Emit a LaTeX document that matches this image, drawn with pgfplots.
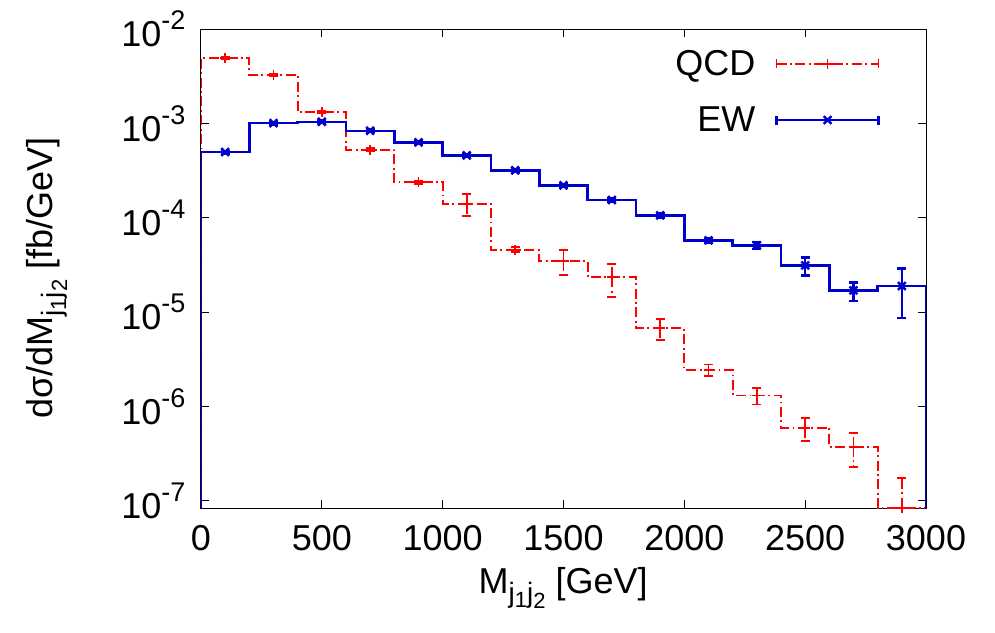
\documentclass[border=0pt]{standalone}
\usepackage{fontspec}
\setmainfont{Liberation Sans}
\usepackage{pgfplots}
\pgfplotsset{compat=1.18}
\definecolor{qcdred}{RGB}{255,0,0}
\definecolor{ewblue}{RGB}{0,0,204}
% gnuplot-like exponents and subscripts
\newcommand{\ten}[1]{10\raisebox{17pt}{\fontsize{27}{27}\selectfont #1}}
\newcommand{\jj}{\raisebox{-9pt}{\fontsize{28}{28}\selectfont j\raisebox{-5pt}{\fontsize{22}{22}\selectfont 1}j\raisebox{-6pt}{\fontsize{22}{22}\selectfont 2}}}
\tikzset{
  qcdline/.style={qcdred, line width=1.8pt, dash pattern=on 10pt off 3.5pt on 1.8pt off 3.5pt},
  ewline/.style={ewblue, line width=2.5pt},
}

\begin{document}
\begin{tikzpicture}
\useasboundingbox (-201pt,-124pt) rectangle (794pt,508pt);
\begin{axis}[
  scale only axis, width=725pt, height=479pt,
  xmin=0, xmax=3000, ymode=log, ymin=8.4e-8, ymax=1e-2,
  xtick={0,500,1000,1500,2000,2500,3000},
  xticklabels={0,500,1000,1500,2000,2500,3000},
  ytick={1e-7,1e-6,1e-5,1e-4,1e-3,1e-2},
  yticklabels={\ten{-7},\ten{-6},\ten{-5},\ten{-4},\ten{-3},\ten{-2}},
  minor y tick style={draw=none}, minor x tick num=0,
  tick align=inside, major tick length=8pt,
  tick style={black, line width=1pt},
  axis line style={black, line width=1pt},
  tick label style={font=\fontsize{36}{36}\selectfont},
  yticklabel style={xshift=-12pt},
  xticklabel style={yshift=-14pt},
  label style={font=\fontsize{36}{36}\selectfont},
  xlabel={M\jj{} [GeV]},
  ylabel={dσ/dM\jj{} [fb/GeV]},
  xlabel style={at={(axis description cs:0.4995,-0.1775)}, anchor=base},
  ylabel style={at={(axis description cs:-0.2055,0.48)}, anchor=base},
  legend plot pos=right, legend cell align=right,
  legend style={at={(rel axis cs:0.9366,0.956)}, anchor=north east,
    draw=none, fill=none, inner sep=0pt, row sep=30pt, column sep=20pt,
    nodes={inner sep=0pt}, font=\fontsize{36}{36}\selectfont},
]
% QCD histogram steps
\addplot[qcdline, const plot mark left, forget plot] coordinates {
  (0,1e-8)(0,4.95e-3)(200,3.25e-3)(400,1.32e-3)(600,5.25e-4)(800,2.37e-4)
  (1000,1.41e-4)(1200,4.58e-5)(1400,3.5e-5)(1600,2.34e-5)(1800,6.73e-6)
  (2000,2.44e-6)(2200,1.31e-6)(2400,5.97e-7)(2600,3.75e-7)(2800,8.45e-8)
  (3000,8.45e-8)(3000,1e-8)};
% QCD bin centres with errors
\addplot[qcdred, line width=1.8pt, only marks, mark=+, mark size=5pt,
  error bars/.cd, y dir=both, y explicit,
  error bar style={qcdline},
  error mark options={rotate=90, mark size=4.5pt, solid, line width=1.8pt},
  /pgfplots/legend image code/.code={
    \draw[qcdline] (0pt,0pt) -- (102pt,0pt);
    \draw[qcdred, line width=1.8pt] (0pt,-4.5pt) -- (0pt,4.5pt) (102pt,-4.5pt) -- (102pt,4.5pt);
    \draw[qcdred, line width=1.8pt] plot[mark=+, mark size=5pt] coordinates {(51pt,0pt)};}
] coordinates {
  (100,4.95e-3) +- (0,1.5e-4)
  (300,3.25e-3) +- (0,1e-4)
  (500,1.32e-3) +- (0,5e-5)
  (700,5.25e-4) +- (0,2e-5)
  (900,2.37e-4) +- (0,1e-5)
  (1100,1.41e-4) +- (0,3.6e-5)
  (1300,4.58e-5) +- (0,2.8e-6)
  (1500,3.5e-5) +- (0,1.05e-5)
  (1700,2.34e-5) +- (0,9e-6)
  (1900,6.73e-6) +- (0,1.7e-6)
  (2100,2.44e-6) +- (0,3.5e-7)
  (2300,1.31e-6) +- (0,2.6e-7)
  (2500,5.97e-7) +- (0,1.65e-7)
  (2700,3.75e-7) +- (0,1.45e-7)
  (2900,8.45e-8) += (0,8.9e-8) -= (0,0)
};
\addlegendentry{QCD}
% EW histogram steps
\addplot[ewline, const plot mark left, forget plot] coordinates {
  (0,1e-8)(0,4.97e-4)(200,1.007e-3)(400,1.04e-3)(600,8.35e-4)(800,6.29e-4)
  (1000,4.58e-4)(1200,3.18e-4)(1400,2.2e-4)(1600,1.54e-4)(1800,1.06e-4)
  (2000,5.77e-5)(2200,5.1e-5)(2400,3.13e-5)(2600,1.7e-5)(2800,1.89e-5)
  (3000,1.89e-5)(3000,1e-8)};
% EW bin centres with errors
\addplot[ewblue, line width=2.5pt, only marks, mark=x, mark size=5.5pt,
  error bars/.cd, y dir=both, y explicit,
  error bar style={ewline},
  error mark options={rotate=90, mark size=4.5pt, line width=2.5pt},
  /pgfplots/legend image code/.code={
    \draw[ewline] (0pt,0pt) -- (102pt,0pt);
    \draw[ewline] (0pt,-4.5pt) -- (0pt,4.5pt) (102pt,-4.5pt) -- (102pt,4.5pt);
    \draw[ewline] plot[mark=x, mark size=5.5pt] coordinates {(51pt,0pt)};}
] coordinates {
  (100,4.97e-4) +- (0,1.5e-5)
  (300,1.007e-3) +- (0,3e-5)
  (500,1.04e-3) +- (0,3e-5)
  (700,8.35e-4) +- (0,2.5e-5)
  (900,6.29e-4) +- (0,2e-5)
  (1100,4.58e-4) +- (0,1.5e-5)
  (1300,3.18e-4) +- (0,1e-5)
  (1500,2.2e-4) +- (0,8e-6)
  (1700,1.54e-4) +- (0,6e-6)
  (1900,1.06e-4) +- (0,5e-6)
  (2100,5.77e-5) +- (0,3e-6)
  (2300,5.1e-5) +- (0,4.5e-6)
  (2500,3.13e-5) += (0,6.4e-6) -= (0,6.8e-6)
  (2700,1.7e-5) += (0,3.5e-6) -= (0,3.9e-6)
  (2900,1.89e-5) +- (0,1.02e-5)
};
\addlegendentry{EW}
\end{axis}
\end{tikzpicture}
\end{document}
